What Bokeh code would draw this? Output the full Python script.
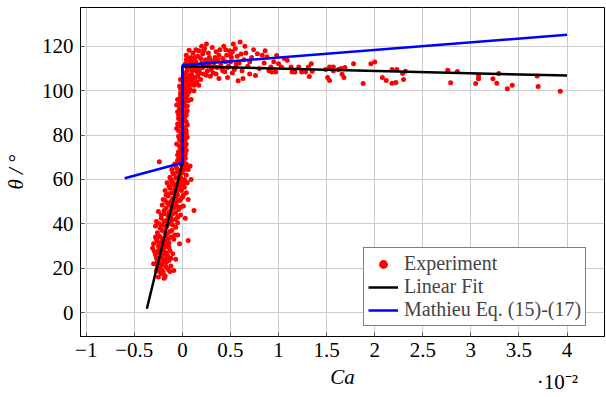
from bokeh.plotting import figure
from bokeh.models import Range1d, FixedTicker, LinearAxis, Legend, LegendItem
from bokeh.embed import file_html
from bokeh.resources import INLINE

# Experiment data (Ca in units of 1e-2, theta in degrees)
tail_x = [-0.25, -0.22, -0.2, -0.18, -0.27, -0.15, -0.23, -0.19, -0.09, -0.13,
          -0.3, -0.26, -0.22, -0.17, -0.12, -0.28, -0.24, -0.2, -0.15, -0.1, -0.31, -0.18, -0.13, -0.07, -0.21, -0.25,
          -0.3, -0.27, -0.23, -0.19, -0.14, -0.09, -0.05, -0.26, -0.21, -0.16, -0.11, -0.07, -0.28, -0.2, -0.13, 0.06, -0.03, -0.17,
          -0.27, -0.22, -0.17, -0.12, -0.07, -0.02, -0.25, -0.19, -0.14, -0.09, -0.04, 0.01, -0.21, -0.16, -0.11, -0.06, 0.12, 0.03,
          -0.2, -0.15, -0.1, -0.05, 0.0, 0.04, -0.18, -0.13, -0.08, -0.03, 0.02, -0.16, -0.11, -0.06, -0.01, 0.05, 0.09, -0.14, 0.06,
          -0.13, -0.09, -0.04, 0.0, 0.04, -0.11, -0.06, -0.02, 0.03, -0.08, -0.03, 0.01, 0.06, -0.24, 0.08,
          -0.24, -0.21, -0.17, -0.26, -0.23, -0.19, -0.14, -0.27, -0.21, -0.16, -0.12, -0.29, -0.23, -0.17, -0.14, -0.2,
          -0.26, -0.21, -0.16, -0.12, -0.24, -0.18, -0.13, -0.08, -0.23, -0.17, -0.1, -0.05, -0.24, -0.19, -0.15, -0.1,
          -0.05, -0.22, -0.17, -0.12, -0.07, -0.02, -0.14, -0.08, -0.03, -0.18, -0.12, -0.07, -0.02, -0.17, -0.11, -0.06,
          -0.01, -0.14, -0.09, -0.04, 0.01, -0.12, -0.07, -0.02, 0.02, -0.1, -0.05, 0.02, -0.07, -0.01, 0.04, -0.05,
          0.0, -0.2, -0.25, -0.28, -0.11, -0.08, -0.19, -0.1, -0.03, 0.03, 0.01, -0.16, -0.06, -0.22, -0.15, -0.18]
tail_y = [16, 17.5, 18, 16.5, 19, 19.5, 20, 15.5, 19, 18.5,
          22, 23, 24, 22.5, 21, 26, 27, 28, 25, 26.5, 29, 29.5, 28, 24, 21.5, 30,
          31, 33, 34, 32, 31.5, 33, 35, 36, 37, 35.5, 37, 38.5, 39, 39.5, 40, 32.5, 31, 33.5,
          41, 42.5, 41.5, 43, 42, 44, 45.5, 46, 45, 47, 46.5, 48, 48.5, 49.5, 48, 50, 46, 42.5,
          51, 52.5, 51.5, 53, 52, 54, 55, 56, 55.5, 57, 56.5, 58.5, 59, 58, 59.5, 58.5, 60, 53.5, 51,
          61, 62.5, 61.5, 63, 62, 64.5, 65, 64, 66, 67, 68, 67.5, 64.5, 68, 66,
          18.5, 19, 20.5, 21, 22, 23, 23.5, 24.5, 25.5, 26, 24.5, 27.5, 29, 27, 29.5, 30.5,
          32, 33, 31, 34, 34.5, 36, 36.5, 35, 38, 38.5, 39.5, 40.5, 40, 41, 43.5, 44.5,
          43, 44, 47, 46, 45, 47.5, 48.5, 49, 50.5, 50.5, 50, 52, 51, 53, 54, 54.5,
          55, 57, 57.5, 56, 57.5, 60, 60.5, 61, 60, 63, 63.5, 64.5, 66, 66.5, 67, 68.5,
          69, 26.5, 28, 34, 41.5, 53.5, 44.5, 58.5, 58.5, 59, 53, 39, 48, 31.5, 33, 24]

band_x = [-0.03, 0.02, -0.05, 0.0, 0.04, -0.02, 0.03, -0.06, 0.01, -0.03, 0.05, -0.01, 0.02, -0.04, 0.03, 0.0,
          -0.05, 0.04, -0.02, 0.01, -0.04, 0.03, 0.0, -0.03, 0.05, -0.01, 0.02, -0.05, 0.04, 0.0, -0.02, 0.03,
          0.06, -0.03, 0.01, 0.05, 0.08, 0.1, 0.07, -0.04, 0.03, -0.01, 0.02, -0.04, 0.01, -0.02, 0.03, -0.03,
          0.02, -0.02, 0.04, 0.0, -0.06, -0.05, 0.05, 0.05, -0.01, 0.01, -0.03, 0.02, 0.0, 0.04, -0.06, 0.0,
          0.03, 0.12, 0.09, -0.02, 0.02, 0.06, 0.17,
          0.01, -0.02, 0.03, 0.0, -0.04, 0.02, 0.0, -0.03, 0.04, 0.01, -0.02, 0.03, -0.01, 0.02, -0.03, 0.04,
          0.0, -0.04, 0.02, 0.0, 0.04, -0.02, 0.01, -0.04, 0.03, 0.0, -0.01, 0.02, 0.05, 0.01, -0.02, 0.04,
          0.07, 0.0, 0.03, 0.09, 0.11, 0.13, 0.05, 0.06]
band_y = [69, 70, 71, 72, 73, 74, 75, 76, 77, 78, 79, 80, 81, 82, 83, 84,
          85, 86, 87, 88, 89, 90, 91, 92, 93, 94, 95, 96, 97, 98, 99, 100,
          101, 102, 103, 104, 102.5, 104.5, 99.5, 70.5, 71.5, 73.5, 76.5, 79.5, 82.5, 85.5, 88.5, 91.5,
          94.5, 97.5, 99, 101.5, 83, 90.5, 84.5, 91, 75.5, 86.5, 95.5, 98.5, 78.5, 80.5, 93.5, 96.5,
          103, 100, 96, 105, 106, 106.5, 102.4,
          68.5, 70, 69.5, 71, 72.5, 73, 74.5, 75, 76, 79, 77.5, 78, 81, 83.5, 84, 82,
          86, 87.5, 87, 89.5, 89, 90, 92.5, 94, 93, 95, 97, 96.5, 98, 100, 101, 102,
          103, 104.5, 105.5, 105, 106, 103, 100.5, 95.5]

corner_x = [0.03, 0.05, 0.07, 0.04, 0.08, 0.1, 0.12, 0.09, 0.11, 0.13, 0.15, 0.14, 0.16, 0.18, 0.2, 0.17,
            0.19, 0.22, 0.24, 0.21, 0.23, 0.26, 0.28, 0.27, 0.3, 0.29, 0.32, 0.34, 0.31, 0.36, 0.38, 0.35,
            0.4, 0.42, 0.39, 0.44, 0.46, 0.43, 0.48, 0.5, 0.47, 0.52, 0.54, 0.51, 0.56, 0.58, 0.55, 0.6,
            0.07, 0.06, 0.1, 0.02, 0.12, 0.05, 0.15, 0.08, 0.13, 0.2, 0.25, 0.33, 0.41, 0.45, 0.37, 0.49,
            0.53, 0.57, 0.26, 0.18, 0.22, 0.11, 0.04,
            0.05, 0.06, 0.08, 0.09, 0.1, 0.12, 0.14, 0.16, 0.17, 0.19, 0.21, 0.23, 0.25, 0.28, 0.3, 0.33,
            0.35, 0.38, 0.42, 0.45, 0.47, 0.5, 0.52, 0.55, 0.59, 0.61, 0.03, 0.04, 0.06, 0.14]
corner_y = [108, 110, 112, 114, 107, 109, 111, 115, 117, 106, 108.5, 113, 115.5, 110, 112.5, 118,
            105, 107.5, 114, 116.5, 119, 109, 111.5, 117, 113.5, 106.5, 108, 115, 119.5, 110.5, 105.5, 117.5,
            112, 114.5, 118.5, 108.5, 116, 120, 111, 113, 106, 117.5, 109.5, 115, 112, 104.5, 119, 121.9,
            118.2, 103, 105, 101, 102.5, 106, 104, 100.5, 115, 120, 121, 111, 110, 113, 114, 118,
            121, 115.5, 113, 108, 118, 113, 104,
            109, 111.5, 113.5, 110.5, 107, 109.5, 111, 106.5, 109.5, 114.5, 110.5, 112, 107, 115, 109.5, 113,
            107.5, 116, 109, 118.5, 110.5, 116, 108, 110.5, 112.5, 116.5, 112, 116, 114.5, 118.5]

mid_x = [0.62, 0.64, 0.66, 0.68, 0.7, 0.72, 0.74, 0.76, 0.78, 0.8, 0.83, 0.85, 0.88, 0.9, 0.92, 0.93,
         0.95, 0.97, 0.98, 1.0, 1.03, 1.06, 1.09, 1.13, 1.14, 1.17, 1.21, 1.24, 1.28, 1.31, 1.32, 1.34,
         1.35, 0.65, 0.7, 0.86, 0.63]
mid_y = [109, 114, 117, 111, 107.5, 115, 118.5, 106.9, 116.6, 110, 116, 112.5, 115.2, 109, 110.7, 108.4,
         113, 108.4, 115.9, 112.2, 110.7, 114.5, 113.7, 110.7, 108.4, 108.4, 110.7, 108.4, 108.4, 110.7, 106.4, 112.2,
         108.8, 120, 113, 118, 105.5]

far_x = [1.49, 1.51, 1.53, 1.53, 1.57, 1.57, 1.62, 1.65, 1.66, 1.68, 1.69, 1.78, 1.88, 1.96, 2.0, 2.08,
         2.12, 2.18, 2.18, 2.22, 2.23, 2.29, 2.3, 2.32, 2.76, 2.79, 2.86, 3.05, 3.08, 3.08, 3.23, 3.27,
         3.29, 3.38, 3.43, 3.69, 3.7, 3.93]
far_y = [109.5, 105.9, 110.7, 104.6, 109, 110.7, 109.5, 110, 107.4, 105.9, 110.4, 112.2, 103.2, 112.2, 112.9, 105.9,
         104.6, 103.4, 109.5, 103.7, 109.5, 107.7, 105, 108.8, 109.2, 103.6, 108.7, 103.2, 106.8, 105.4, 105.4, 103.4,
         107.7, 100.9, 102.4, 106.6, 101.9, 99.8]

exp_x = tail_x + band_x + corner_x + mid_x + far_x
exp_y = tail_y + band_y + corner_y + mid_y + far_y

fit_x = [-0.37, 0.0, 0.0, 4.0]
fit_y = [1.7, 67.5, 111.0, 106.8]

mathieu_x = [-0.6, 0.0, 0.0, 4.0]
mathieu_y = [60.5, 67.5, 111.5, 125.2]

x_ticks = [-1, -0.5, 0, 0.5, 1, 1.5, 2, 2.5, 3, 3.5, 4]
x_tick_labels = ["\u22121", "\u22120.5", "0", "0.5", "1", "1.5", "2", "2.5", "3", "3.5", "4"]
y_ticks = [0, 20, 40, 60, 80, 100, 120]
scale_label_x = [3.9]
scale_label = ["\u00b710\u207b\u00b2"]

FONT = "Liberation Serif"

p = figure(width=606, height=397, output_backend="svg", toolbar_location=None,
           x_range=Range1d(-1.06, 4.39), y_range=Range1d(-10.8, 137.5),
           min_border_left=78, min_border_right=2, min_border_top=7, min_border_bottom=61)

p.outline_line_color = "black"
p.outline_line_width = 1
p.background_fill_color = "white"
p.border_fill_color = "white"

for ax in (p.xaxis[0], p.yaxis[0]):
    ax.major_tick_in = 4
    ax.major_tick_out = 0
    ax.minor_tick_in = 0
    ax.minor_tick_out = 0
    ax.major_tick_line_color = "#555555"
    ax.axis_line_color = "black"
    ax.major_label_text_font = FONT
    ax.major_label_text_font_size = "21px"
    ax.major_label_text_color = "black"
    ax.axis_label_text_font = FONT
    ax.axis_label_text_font_size = "21px"
    ax.axis_label_text_font_style = "italic"
    ax.axis_label_text_color = "black"

p.xaxis.ticker = FixedTicker(ticks=x_ticks)
p.xaxis.major_label_overrides = {t: l for t, l in zip(x_ticks, x_tick_labels)}
p.yaxis.ticker = FixedTicker(ticks=y_ticks)
p.xaxis.axis_label = "Ca"
p.yaxis.axis_label = "\u03b8 / \u00b0"
p.xaxis.major_label_standoff = 6
p.xaxis.axis_label_standoff = 5
p.yaxis.major_label_standoff = 7
p.yaxis.axis_label_standoff = 11

# scale factor note below the x axis, drawn as a tick-only axis
scale_axis = LinearAxis(ticker=FixedTicker(ticks=scale_label_x),
                        major_label_overrides={t: l for t, l in zip(scale_label_x, scale_label)},
                        axis_line_color=None, major_tick_line_color=None, minor_tick_line_color=None,
                        major_tick_in=0, major_tick_out=0, minor_tick_in=0, minor_tick_out=0,
                        major_label_standoff=-22, major_label_text_font=FONT,
                        major_label_text_font_size="21px", major_label_text_color="black")
p.add_layout(scale_axis, "below")

p.grid.grid_line_color = "#cccccc"
p.grid.grid_line_width = 1

r_exp = p.scatter(exp_x, exp_y, size=5, fill_color="red", line_color=None)
r_fit = p.line(fit_x, fit_y, line_color="black", line_width=2.5)
r_math = p.line(mathieu_x, mathieu_y, line_color="blue", line_width=2.5)

legend = Legend(items=[LegendItem(label="Experiment", renderers=[r_exp]),
                       LegendItem(label="Linear Fit", renderers=[r_fit]),
                       LegendItem(label="Mathieu Eq. (15)-(17)", renderers=[r_math])],
                location=(283, 10))
legend.label_text_font = FONT
legend.label_text_font_size = "20px"
legend.label_height = 22
legend.glyph_width = 30
legend.glyph_height = 22
legend.spacing = 0
legend.padding = 4
legend.margin = 0
legend.label_standoff = 6
legend.border_line_color = "black"
legend.border_line_width = 1
legend.background_fill_alpha = 1
p.add_layout(legend, "center")

open("out.html", "w").write(file_html(p, INLINE))
